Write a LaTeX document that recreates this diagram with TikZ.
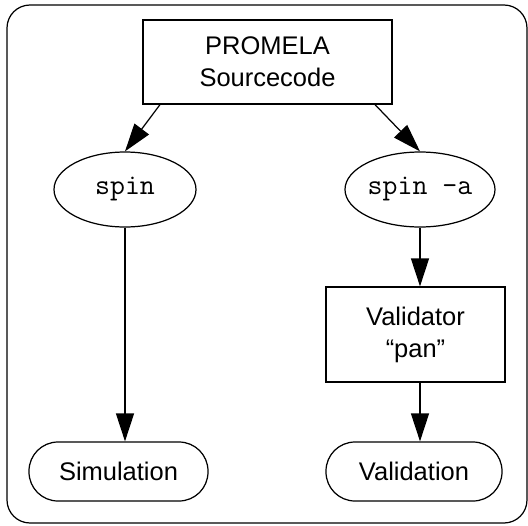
\documentclass[tikz,border=0pt]{standalone}
\usepackage{fontspec}
\setmainfont{Liberation Sans}
\usetikzlibrary{arrows.meta, shapes.geometric}

\begin{document}
\begin{tikzpicture}[line width=0.7pt,
    font=\fontsize{14.5}{18.2}\selectfont,
    box/.style={rectangle, draw, align=center, inner sep=0pt},
    prog/.style={ellipse, draw, inner sep=0pt, minimum height=1.5cm, font=\fontsize{16.5}{19}\selectfont\ttfamily},
    result/.style={rectangle, draw, rounded corners=0.58cm, minimum height=1.18cm, inner sep=0pt},
    flow/.style={-{Triangle[length=0.56cm, width=0.36cm]}}]

    \useasboundingbox (0,0) rectangle (10.56,-10.5);
    \draw[rounded corners=0.46cm] (0.14,-0.1) rectangle (10.54,-10.46);

    \node[box, minimum width=4.98cm, minimum height=1.68cm] (prom) at (5.35,-1.24) {PROMELA\\Sourcecode};

    \node[prog, minimum width=2.84cm] (spin) at (2.5,-3.79) {spin};
    \node[prog, minimum width=3.0cm] (spina) at (8.4,-3.79) {spin -a};

    \node[box, minimum width=3.58cm, minimum height=1.9cm] (pan) at (8.31,-6.69) {Validator\\“pan”};

    \node[result, minimum width=3.58cm] (sim) at (2.37,-9.43) {Simulation};
    \node[result, minimum width=3.52cm] (val) at (8.28,-9.43) {Validation};

    \draw[flow] ([xshift=-2.15cm]prom.south) -- (spin.north);
    \draw[flow] ([xshift=2.15cm]prom.south) -- (spina.north);
    \draw[flow] (spin.south) -- (spin.south |- sim.north);
    \draw[flow] (spina.south) -- (spina.south |- pan.north);
    \draw[flow] (spina.south |- pan.south) -- (spina.south |- val.north);
\end{tikzpicture}
\end{document}
